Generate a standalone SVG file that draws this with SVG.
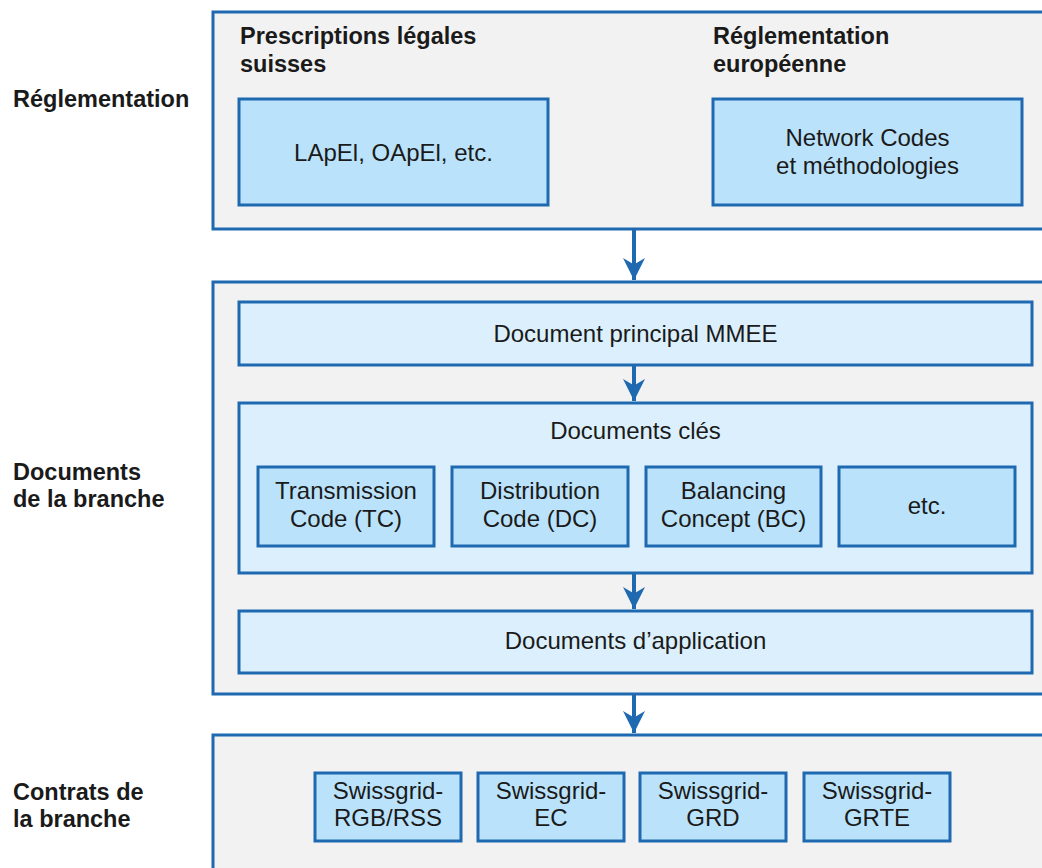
<svg xmlns="http://www.w3.org/2000/svg" width="1042" height="868" viewBox="0 0 1042 868">
<style>
.outer{fill:#f2f2f2;stroke:#1f69b1;stroke-width:3}
.light{fill:#dbf0fc;stroke:#1f69b1;stroke-width:3}
.dark{fill:#bae3fb;stroke:#1f69b1;stroke-width:3}
text{font-family:"Liberation Sans",Arial,sans-serif;fill:#1a1a1a;font-size:24px}
.b{font-weight:bold;font-size:23.5px}
.c{text-anchor:middle}
.conn{stroke:#1f69b1;stroke-width:4;fill:none}
</style>
<defs>
<marker id="ah" viewBox="0 0 10 10" refX="10" refY="5" markerWidth="5.5" markerHeight="5.5" markerUnits="strokeWidth" orient="auto">
<path d="M0,0 L10,5 L0,10 L3,5 Z" fill="#1f69b1"/>
</marker>
</defs>
<rect width="1042" height="868" fill="#ffffff"/>
<g id="labels">
<text class="b" x="13" y="107">Réglementation</text>
<text class="b" x="13" y="480">Documents</text>
<text class="b" x="13" y="507">de la branche</text>
<text class="b" x="13" y="800">Contrats de</text>
<text class="b" x="13" y="827">la branche</text>
</g>
<g id="reglementation">
<rect class="outer" x="213" y="12" width="850" height="217"/>
<text class="b" x="240" y="44">Prescriptions légales</text>
<text class="b" x="240" y="72">suisses</text>
<text class="b" x="713" y="44">Réglementation</text>
<text class="b" x="713" y="72">européenne</text>
</g>
<g id="lapel">
<rect class="dark" x="239" y="99" width="309" height="106"/>
<text class="c" x="393.5" y="161">LApEl, OApEl, etc.</text>
</g>
<g id="networkcodes">
<rect class="dark" x="713" y="99" width="309" height="106"/>
<text class="c" x="867.5" y="146">Network Codes</text>
<text class="c" x="867.5" y="174">et méthodologies</text>
</g>
<g id="documents-branche">
<rect class="outer" x="213" y="282" width="850" height="412"/>
</g>
<g id="doc-principal">
<rect class="light" x="239" y="302" width="793" height="63"/>
<text class="c" x="635.5" y="342">Document principal MMEE</text>
</g>
<g id="docs-cles">
<rect class="light" x="239" y="403" width="793" height="170"/>
<text class="c" x="635.5" y="439">Documents clés</text>
</g>
<g id="tc">
<rect class="dark" x="258" y="467" width="176" height="79"/>
<text class="c" x="346" y="499">Transmission</text>
<text class="c" x="346" y="527">Code (TC)</text>
</g>
<g id="dc">
<rect class="dark" x="452" y="467" width="176" height="79"/>
<text class="c" x="540" y="499">Distribution</text>
<text class="c" x="540" y="527">Code (DC)</text>
</g>
<g id="bc">
<rect class="dark" x="646" y="467" width="175" height="79"/>
<text class="c" x="733.5" y="499">Balancing</text>
<text class="c" x="733.5" y="527">Concept (BC)</text>
</g>
<g id="etc">
<rect class="dark" x="839" y="467" width="176" height="79"/>
<text class="c" x="927" y="514">etc.</text>
</g>
<g id="docs-application">
<rect class="light" x="239" y="611" width="793" height="62"/>
<text class="c" x="635.5" y="649">Documents d’application</text>
</g>
<g id="contrats-branche">
<rect class="outer" x="213" y="735" width="850" height="150"/>
</g>
<g id="sg-rgb">
<rect class="dark" x="315" y="773" width="146" height="68"/>
<text class="c" x="388" y="799">Swissgrid-</text>
<text class="c" x="388" y="826">RGB/RSS</text>
</g>
<g id="sg-ec">
<rect class="dark" x="478" y="773" width="146" height="68"/>
<text class="c" x="551" y="799">Swissgrid-</text>
<text class="c" x="551" y="826">EC</text>
</g>
<g id="sg-grd">
<rect class="dark" x="640" y="773" width="146" height="68"/>
<text class="c" x="713" y="799">Swissgrid-</text>
<text class="c" x="713" y="826">GRD</text>
</g>
<g id="sg-grte">
<rect class="dark" x="804" y="773" width="146" height="68"/>
<text class="c" x="877" y="799">Swissgrid-</text>
<text class="c" x="877" y="826">GRTE</text>
</g>
<g id="connectors">
<line class="conn" x1="634" y1="230" x2="634" y2="280" marker-end="url(#ah)"/>
<line class="conn" x1="634" y1="366" x2="634" y2="401" marker-end="url(#ah)"/>
<line class="conn" x1="634" y1="574" x2="634" y2="609" marker-end="url(#ah)"/>
<line class="conn" x1="634" y1="695" x2="634" y2="733" marker-end="url(#ah)"/>
</g>
</svg>
